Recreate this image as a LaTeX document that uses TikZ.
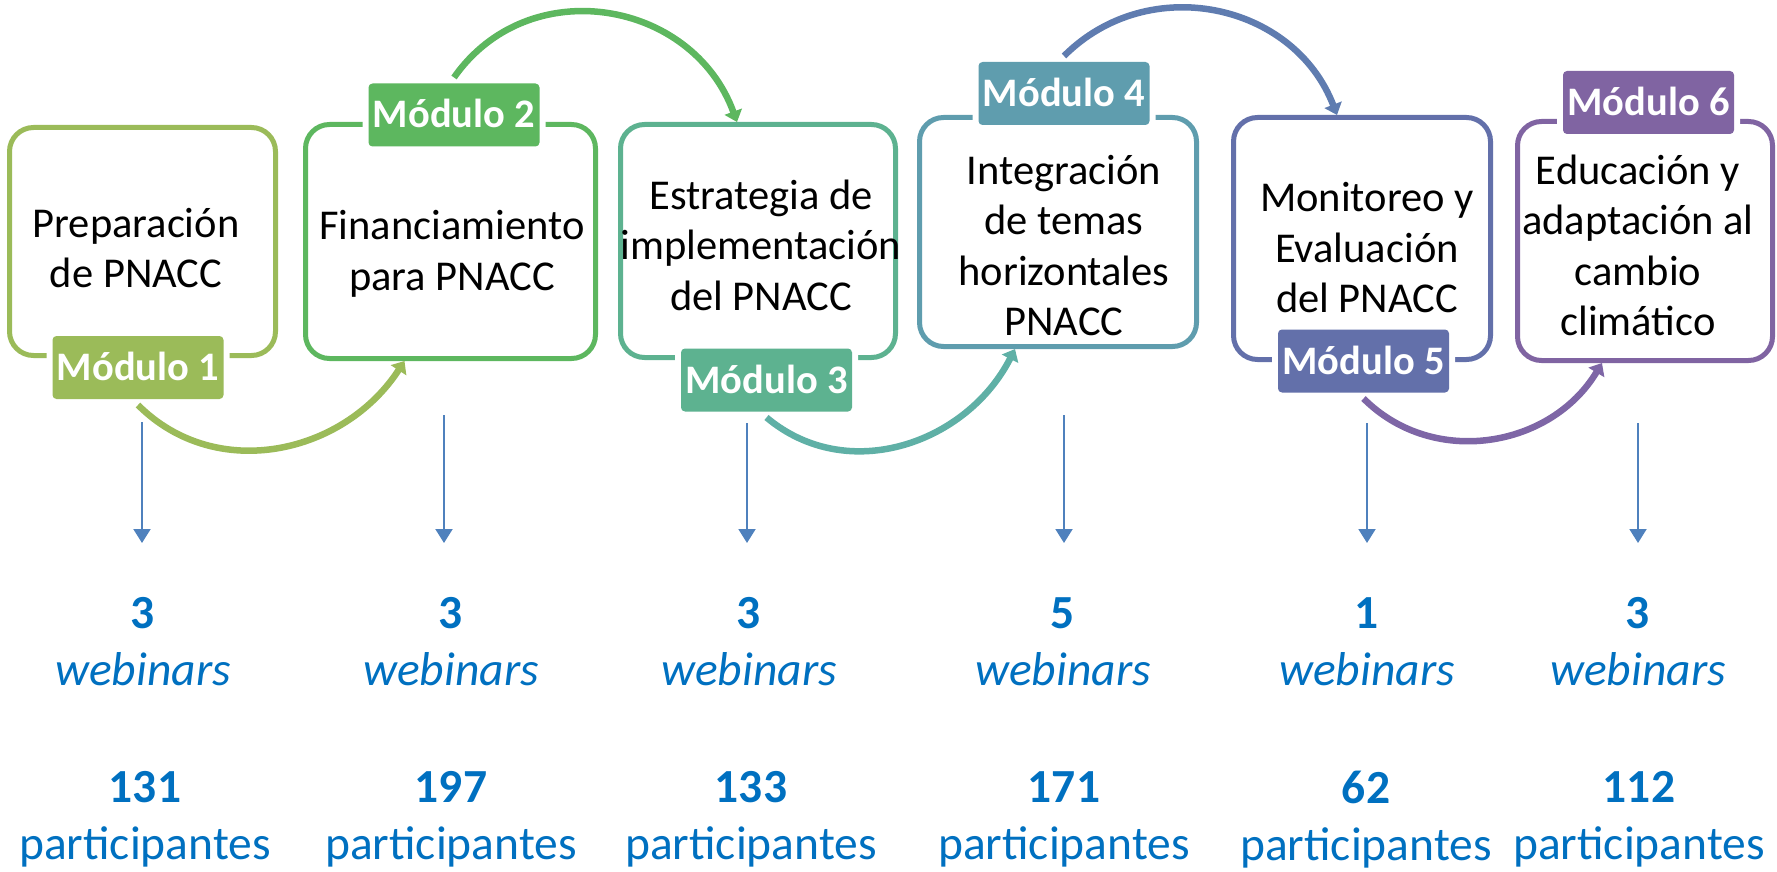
\documentclass[tikz,border=0pt]{standalone}
\usepackage{fontspec}
\setmainfont{Carlito}
\usetikzlibrary{arrows.meta}
\definecolor{lA}{HTML}{9BBB59}
\definecolor{lB}{HTML}{5DB75F}
\definecolor{lC}{HTML}{5DB290}
\definecolor{lD}{HTML}{5F9DAE}
\definecolor{lE}{HTML}{6370AA}
\definecolor{lF}{HTML}{8064A2}
\definecolor{aA}{HTML}{9BBB59}
\definecolor{aB}{HTML}{5DB75F}
\definecolor{aC}{HTML}{5FB0A6}
\definecolor{aD}{HTML}{5F7CB0}
\definecolor{aE}{HTML}{7E66A6}
\definecolor{vblue}{HTML}{4F81BD}
\definecolor{tblue}{HTML}{0070C0}
\begin{document}
\begin{tikzpicture}[x=1pt,y=1pt,
  modbox/.style={draw, line width=5pt, rounded corners=24pt, inner sep=0pt, fill=white},
  modlab/.style={rounded corners=4pt, inner sep=0pt, minimum width=171pt, minimum height=63pt,
    outer sep=6pt, text=white, font=\fontsize{40.5}{48}\selectfont\bfseries,
    text height=26pt, text depth=0pt, preaction={draw=white, line width=12pt}},
  boxtxt/.style={align=center, inner sep=0pt, font=\fontsize{42.5}{50.5}\selectfont},
  flowarc/.style={line width=6.5pt, -{Triangle[width=18pt,length=11pt]}},
  downarrow/.style={draw=vblue, line width=2pt, -{Triangle[width=17pt,length=14pt]}},
  stat/.style={align=center, inner sep=0pt, text=tblue, font=\fontsize{47.5}{57}\selectfont}]
\useasboundingbox (0,0) rectangle (1777,-872);
% boxes
\node[modbox, draw=lA, minimum width=266pt, minimum height=228pt] (box1) at (142.5,-241.5) {};
\node[modbox, draw=lB, minimum width=290pt, minimum height=234pt] (box2) at (450.5,-241.5) {};
\node[modbox, draw=lC, minimum width=275pt, minimum height=233pt] (box3) at (758,-241) {};
\node[modbox, draw=lD, minimum width=277pt, minimum height=229pt] (box4) at (1058,-232) {};
\node[modbox, draw=lE, minimum width=257pt, minimum height=242pt] (box5) at (1362,-238.5) {};
\node[modbox, draw=lF, minimum width=255pt, minimum height=239pt] (box6) at (1645,-241) {};
% box texts
\node[boxtxt] (t1) at (136,-248) {Preparación\\de PNACC};
\node[boxtxt] (t2) at (452,-254) {Financiamiento\\para PNACC};
\node[boxtxt] (t3) at (761,-245) {Estrategia de\\implementación\\del PNACC};
\node[boxtxt] (t4) at (1064,-245.5) {Integración\\de temas\\horizontales\\PNACC};
\node[boxtxt] (t5) at (1367,-248) {Monitoreo y\\Evaluación\\del PNACC};
\node[boxtxt] (t6) at (1638,-245.5) {Educación y\\adaptación al\\cambio\\climático};
% labels
\node[modlab, fill=lA] (lab1) at (138,-367.5) {Módulo 1};
\node[modlab, fill=lB] (lab2) at (454,-115) {Módulo 2};
\node[modlab, fill=lC] (lab3) at (766.5,-380) {Módulo 3};
\node[modlab, fill=lD] (lab4) at (1064,-93.5) {Módulo 4};
\node[modlab, fill=lE] (lab5) at (1363.5,-361) {Módulo 5};
\node[modlab, fill=lF] (lab6) at (1648.5,-102.5) {Módulo 6};
% flow arcs
\draw[flowarc, draw=aA] (lab1.south) to[out=-45,in=-123,looseness=1.05] ([xshift=-46pt]box2.south);
\draw[flowarc, draw=aB] (lab2.north) to[out=55,in=110,looseness=1.16] ([xshift=-21pt]box3.north);
\draw[flowarc, draw=aC] (lab3.south) to[out=-40,in=-117,looseness=1.05] ([xshift=-43pt]box4.south);
\draw[flowarc, draw=aD] (lab4.north) to[out=45,in=111,looseness=1.1] ([xshift=-25pt]box5.north);
\draw[flowarc, draw=aE] (lab5.south) to[out=-45,in=-121,looseness=1.05] ([xshift=-43pt]box6.south);
% vertical arrows
\coordinate (v1s) at (142,-422); \coordinate (v1e) at (142,-543);
\coordinate (v2s) at (444,-415); \coordinate (v2e) at (444,-543);
\coordinate (v3s) at (747,-423); \coordinate (v3e) at (747,-543);
\coordinate (v4s) at (1064,-415); \coordinate (v4e) at (1064,-543);
\coordinate (v5s) at (1367,-423); \coordinate (v5e) at (1367,-543);
\coordinate (v6s) at (1638,-423); \coordinate (v6e) at (1638,-543);
\draw[downarrow] (v1s) -- (v1e);
\draw[downarrow] (v2s) -- (v2e);
\draw[downarrow] (v3s) -- (v3e);
\draw[downarrow] (v4s) -- (v4e);
\draw[downarrow] (v5s) -- (v5e);
\draw[downarrow] (v6s) -- (v6e);
% statistics
\node[stat] (w1) at (143,-641.5) {{\bfseries 3}\\{\itshape webinars}};
\node[stat] (w2) at (451,-641.5) {{\bfseries 3}\\{\itshape webinars}};
\node[stat] (w3) at (749,-641.5) {{\bfseries 3}\\{\itshape webinars}};
\node[stat] (w4) at (1063,-641.5) {{\bfseries 5}\\{\itshape webinars}};
\node[stat] (w5) at (1367,-641.5) {{\bfseries 1}\\{\itshape webinars}};
\node[stat] (w6) at (1638,-641.5) {{\bfseries 3}\\{\itshape webinars}};
\node[stat] (p1) at (145,-819.7) {{\bfseries 131}\\participantes};
\node[stat] (p2) at (451,-819.7) {{\bfseries 197}\\participantes};
\node[stat] (p3) at (751,-819.7) {{\bfseries 133}\\participantes};
\node[stat] (p4) at (1064,-819.7) {{\bfseries 171}\\participantes};
\node[stat] (p5) at (1366,-819.7) {{\bfseries 62}\\participantes};
\node[stat] (p6) at (1639,-819.7) {{\bfseries 112}\\participantes};
\end{tikzpicture}
\end{document}
